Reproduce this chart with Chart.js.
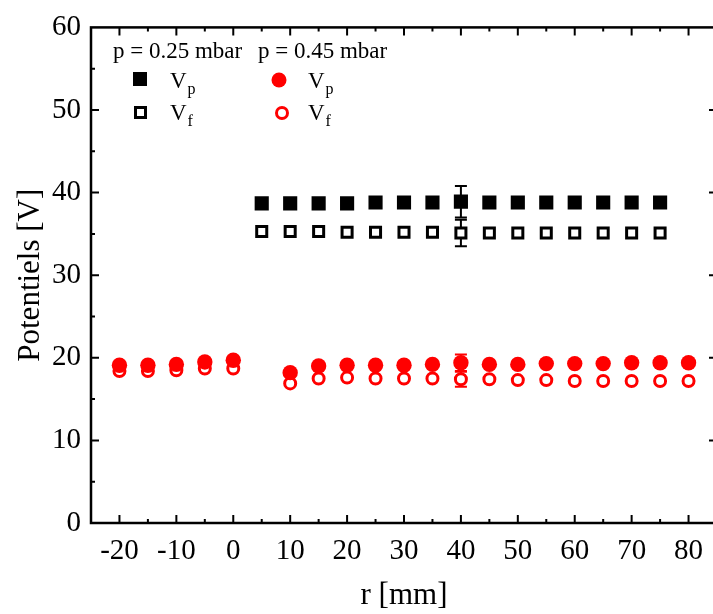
<!DOCTYPE html>
<html lang="en">
<head>
  <meta charset="UTF-8" />
  <title>Potentiels</title>
  <script src="https://cdn.jsdelivr.net/npm/chart.js"></script>
  <style>
    body {
      margin: 0;
      padding: 0;
      background: #fff;
      overflow: hidden;
    }
    #wrap {
      position: absolute;
      left: 0;
      top: 0;
      width: 740px;
      height: 614px;
    }
  </style>
</head>
<body>
  <div id="wrap">
    <canvas id="chart" width="740" height="614"></canvas>
  </div>

  <script>
    // p = 0.25 mbar
    const rLow = [5, 10, 15, 20, 25, 30, 35, 40, 45, 50, 55, 60, 65, 70, 75];
    const vpLow = [38.7, 38.7, 38.7, 38.7, 38.8, 38.8, 38.8, 38.9, 38.8, 38.8, 38.8, 38.8, 38.8, 38.8, 38.8];
    const vfLow = [35.3, 35.3, 35.3, 35.2, 35.2, 35.2, 35.2, 35.1, 35.1, 35.1, 35.1, 35.1, 35.1, 35.1, 35.1];

    // p = 0.45 mbar
    const rHigh = [-20, -15, -10, -5, 0, 10, 15, 20, 25, 30, 35, 40, 45, 50, 55, 60, 65, 70, 75, 80];
    const vpHigh = [19.1, 19.1, 19.2, 19.5, 19.7, 18.2, 19.0, 19.1, 19.1, 19.1, 19.2, 19.4, 19.2, 19.2, 19.3, 19.3, 19.3, 19.4, 19.4, 19.4];
    const vfHigh = [18.4, 18.4, 18.5, 18.7, 18.7, 16.9, 17.5, 17.6, 17.5, 17.5, 17.5, 17.4, 17.4, 17.3, 17.3, 17.2, 17.2, 17.2, 17.2, 17.2];

    // error bars (only measured at r = 40 mm)
    const errR = 40;
    const vpLowErr = 1.9;
    const vfLowErr = 1.6;
    const vpHighErr = 1.0;
    const vfHighErr = 0.9;

    const xTicks = [-20, -10, 0, 10, 20, 30, 40, 50, 60, 70, 80];
    const yTicks = [0, 10, 20, 30, 40, 50, 60];

    const FONT = "'Liberation Serif', 'Times New Roman', serif";
    const RED = '#ff0000';

    const toPoints = (xs, ys) => xs.map((x, i) => ({ x, y: ys[i] }));

    const frameAndTicks = {
      id: 'frameAndTicks',
      beforeDatasetsDraw(chart) {
        const ctx = chart.ctx;
        const x = chart.scales.x, y = chart.scales.y;
        const bars = [
          [vpLow, rLow, vpLowErr, '#000'],
          [vfLow, rLow, vfLowErr, '#000'],
          [vpHigh, rHigh, vpHighErr, RED],
          [vfHigh, rHigh, vfHighErr, RED]
        ];
        ctx.save();
        ctx.lineWidth = 2;
        bars.forEach(([vals, xs, err, col]) => {
          const v = vals[xs.indexOf(errR)];
          const px = x.getPixelForValue(errR);
          const y1 = y.getPixelForValue(v + err);
          const y2 = y.getPixelForValue(v - err);
          ctx.strokeStyle = col;
          ctx.beginPath();
          ctx.moveTo(px, y1); ctx.lineTo(px, y2);
          ctx.moveTo(px - 6, y1); ctx.lineTo(px + 6, y1);
          ctx.moveTo(px - 6, y2); ctx.lineTo(px + 6, y2);
          ctx.stroke();
        });
        ctx.restore();
      },
      afterDraw(chart) {
        const ctx = chart.ctx;
        const a = chart.chartArea;
        const x = chart.scales.x, y = chart.scales.y;
        ctx.save();
        ctx.strokeStyle = '#000';
        ctx.lineWidth = 2.5;
        ctx.strokeRect(a.left, a.top, a.right - a.left, a.bottom - a.top);

        ctx.lineWidth = 2;
        ctx.beginPath();
        for (let v = -25; v <= 85; v += 5) {
          const px = x.getPixelForValue(v);
          if (px <= a.left + 1 || px >= a.right - 1) continue;
          const len = (v % 10 === 0) ? 8 : 4;
          ctx.moveTo(px, a.bottom); ctx.lineTo(px, a.bottom - len);
          ctx.moveTo(px, a.top); ctx.lineTo(px, a.top + len);
        }
        for (let v = 5; v < 60; v += 5) {
          const py = y.getPixelForValue(v);
          const len = (v % 10 === 0) ? 8 : 4;
          ctx.moveTo(a.left, py); ctx.lineTo(a.left + len, py);
          ctx.moveTo(a.right, py); ctx.lineTo(a.right - len, py);
        }
        ctx.stroke();

        // legend
        ctx.fillStyle = '#000';
        ctx.textBaseline = 'alphabetic';
        ctx.font = '23px ' + FONT;
        ctx.fillText('p = 0.25 mbar', 113, 58);
        ctx.fillText('p = 0.45 mbar', 258, 58);

        const label = (lx, by, sub) => {
          ctx.fillStyle = '#000';
          ctx.font = '23px ' + FONT;
          ctx.fillText('V', lx, by);
          const w = ctx.measureText('V').width;
          ctx.font = '16px ' + FONT;
          ctx.fillText(sub, lx + w + 1, by + 6);
        };
        label(170, 88, 'p');
        label(170, 120, 'f');
        label(308, 88, 'p');
        label(308, 120, 'f');

        ctx.fillStyle = '#000';
        ctx.fillRect(133, 72, 14, 14);
        ctx.lineWidth = 3;
        ctx.strokeStyle = '#000';
        ctx.strokeRect(135.5, 107.5, 10, 10);
        ctx.fillStyle = RED;
        ctx.beginPath();
        ctx.arc(279, 80, 7.5, 0, Math.PI * 2);
        ctx.fill();
        ctx.strokeStyle = RED;
        ctx.beginPath();
        ctx.arc(282, 113, 5.5, 0, Math.PI * 2);
        ctx.stroke();
        ctx.restore();
      }
    };

    new Chart(document.getElementById('chart').getContext('2d'), {
      type: 'scatter',
      data: {
        datasets: [
          {
            label: 'Vp 0.25',
            data: toPoints(rLow, vpLow),
            pointStyle: 'rect',
            pointRadius: 10,
            backgroundColor: '#000',
            borderColor: '#000',
            borderWidth: 0,
            order: 2
          },
          {
            label: 'Vf 0.25',
            data: toPoints(rLow, vfLow),
            pointStyle: 'rect',
            pointRadius: 7.1,
            backgroundColor: '#fff',
            borderColor: '#000',
            borderWidth: 3,
            order: 2
          },
          {
            label: 'Vp 0.45',
            data: toPoints(rHigh, vpHigh),
            pointStyle: 'circle',
            pointRadius: 7.7,
            backgroundColor: RED,
            borderColor: RED,
            borderWidth: 0,
            order: 1
          },
          {
            label: 'Vf 0.45',
            data: toPoints(rHigh, vfHigh),
            pointStyle: 'circle',
            pointRadius: 5.5,
            backgroundColor: '#fff',
            borderColor: RED,
            borderWidth: 3,
            order: 3
          }
        ]
      },
      options: {
        responsive: false,
        animation: false,
        devicePixelRatio: 1,
        layout: { padding: { left: 0, top: 20, right: 23, bottom: 0 } },
        plugins: {
          legend: { display: false },
          tooltip: { enabled: false }
        },
        scales: {
          x: {
            type: 'linear',
            min: -25,
            max: 85,
            afterBuildTicks: s => { s.ticks = xTicks.map(v => ({ value: v })); },
            afterFit: s => { s.height = 91; },
            grid: { display: false, drawTicks: false },
            border: { display: false },
            ticks: {
              color: '#000',
              padding: 11,
              font: { family: FONT, size: 29 },
              autoSkip: false,
              maxRotation: 0
            },
            title: {
              display: true,
              text: 'r [mm]',
              color: '#000',
              font: { family: FONT, size: 31 },
              padding: { top: 0, bottom: 0 }
            }
          },
          y: {
            type: 'linear',
            min: 0,
            max: 60,
            afterBuildTicks: s => { s.ticks = yTicks.map(v => ({ value: v })); },
            afterFit: s => { s.width = 91; },
            grid: { display: false, drawTicks: false },
            border: { display: false },
            ticks: {
              color: '#000',
              padding: 10,
              font: { family: FONT, size: 29 }
            },
            title: {
              display: true,
              text: 'Potentiels [V]',
              color: '#000',
              font: { family: FONT, size: 31 },
              padding: { top: 12, bottom: 0 }
            }
          }
        }
      },
      plugins: [frameAndTicks]
    });
  </script>
</body>
</html>
